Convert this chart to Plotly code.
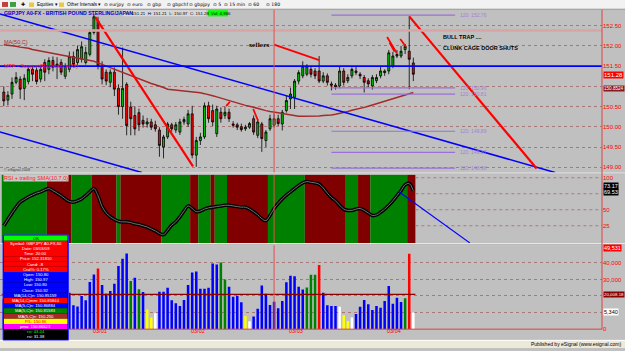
import plotly.graph_objects as go

W, H = 625, 351

# ---------------- data ----------------
opens = [150.86,150.66,150.81,151.10,151.18,150.95,151.12,151.42,151.40,151.18,
         151.59,151.42,151.64,151.55,151.59,151.25,151.42,151.74,151.59,151.67,
         151.59,151.79,152.33,152.62,151.50,151.35,151.10,151.35,150.95,150.50,
         151.05,150.49,150.28,150.35,150.16,150.07,150.12,150.05,149.92,149.50,
         149.75,150.05,149.92,149.87,150.12,150.07,150.32,149.30,149.66,149.75,
         150.52,150.40,149.83,150.36,150.28,150.36,150.07,150.05,150.00,149.95,
         149.99,150.20,149.79,150.07,149.66,149.95,150.04,150.20,150.07,150.40,
         150.69,150.73,151.13,151.26,151.30,151.42,151.38,151.38,151.13,151.26,
         151.06,151.03,151.01,151.38,151.14,151.26,151.38,151.30,151.22,151.14,
         151.01,151.14,151.26,151.38,151.38,151.50,151.75,151.75,151.91,151.87,
         151.58]
highs = [151.00,150.88,151.22,151.35,151.25,151.30,151.47,151.52,151.47,151.50,
         151.67,151.72,151.74,151.72,151.67,151.57,151.86,151.86,152.01,152.11,
         151.98,152.40,152.79,152.72,151.62,151.42,151.42,151.47,151.05,151.96,
         151.10,150.62,150.50,150.45,150.28,150.22,150.20,150.15,149.99,149.80,
         150.12,150.10,150.12,150.20,150.25,150.42,150.52,149.75,149.85,150.60,
         150.62,150.55,150.52,150.48,150.50,150.45,150.14,150.10,150.08,150.05,
         150.12,150.28,150.18,150.12,149.92,150.30,150.33,150.30,150.42,150.77,
         150.97,151.18,151.40,151.62,151.55,151.50,151.45,151.75,151.35,151.32,
         151.12,151.08,151.50,151.45,151.30,151.47,151.50,151.35,151.28,151.20,
         151.28,151.30,151.50,151.42,151.90,151.85,151.90,152.00,152.05,152.73,
         151.71]
lows = [150.51,150.53,150.69,151.05,150.69,150.66,151.05,151.13,151.05,151.10,
        151.13,151.30,151.37,151.18,151.28,151.18,151.35,151.47,151.52,151.59,
        151.54,151.74,152.28,151.42,151.05,151.03,150.98,150.76,150.30,150.20,
        149.79,149.79,149.79,149.90,149.98,149.98,149.92,149.88,149.26,149.22,
        149.70,149.88,149.85,149.80,150.05,150.00,149.22,149.01,149.55,149.70,
        150.10,150.02,149.75,150.10,150.20,150.12,149.98,149.92,149.88,149.90,
        149.95,149.80,149.72,149.38,149.50,149.90,149.98,150.02,149.91,150.35,
        150.44,150.44,151.05,151.20,151.25,151.22,151.18,151.08,151.08,151.02,
        150.90,150.92,150.95,151.02,151.08,151.20,151.28,151.18,150.85,150.98,
        150.92,151.08,151.20,151.26,151.30,151.45,151.70,151.70,151.80,150.93,
        151.13]
closes = [150.64,150.78,151.10,151.22,150.93,151.20,151.42,151.30,151.12,151.42,
          151.35,151.64,151.47,151.50,151.35,151.50,151.74,151.54,151.91,151.98,
          151.84,152.33,152.72,151.50,151.18,151.13,151.35,150.93,150.50,150.95,
          150.03,150.20,149.95,150.05,150.07,150.12,149.99,149.95,149.54,149.75,
          150.07,149.95,150.05,150.12,150.18,150.32,149.30,149.66,149.75,150.52,
          150.20,150.12,150.44,150.20,150.36,150.20,150.04,149.99,149.93,149.99,
          150.08,149.87,150.12,149.71,149.87,150.20,150.20,150.08,150.36,150.65,
          150.81,151.13,151.34,151.50,151.50,151.30,151.26,151.13,151.26,151.10,
          151.03,150.99,151.38,151.10,151.22,151.42,151.34,151.26,151.10,151.06,
          151.22,151.22,151.38,151.34,151.83,151.75,151.79,151.87,151.99,151.67,
          151.30]
ma50 = [152.03,152.02,152.00,151.99,151.97,151.96,151.94,151.91,151.89,151.87,
        151.85,151.83,151.81,151.79,151.77,151.75,151.74,151.72,151.70,151.68,
        151.66,151.64,151.62,151.58,151.54,151.50,151.45,151.41,151.38,151.34,
        151.30,151.26,151.22,151.18,151.14,151.10,151.07,151.04,151.01,150.97,
        150.93,150.92,150.91,150.90,150.89,150.88,150.87,150.85,150.84,150.82,
        150.80,150.77,150.74,150.71,150.68,150.64,150.61,150.58,150.56,150.53,
        150.51,150.48,150.45,150.43,150.40,150.38,150.37,150.35,150.33,150.31,
        150.30,150.28,150.26,150.26,150.26,150.26,150.27,150.27,150.28,150.28,
        150.29,150.31,150.33,150.36,150.38,150.41,150.43,150.46,150.48,150.51,
        150.54,150.57,150.60,150.63,150.66,150.70,150.73,150.76,150.79,150.82,
        150.85]
rsi = [25,35,45,54,62,66,70,73,76,78,
       81,83,80,76,72,67,63,62,64,67,
       72,78,83,72,55,45,39,35,32,31,
       31,30,28,27,25,23,20,17,13,11,
       18,26,31,39,48,56,52,47,48,51,
       53,54,55,56,57,57,56,55,54,54,
       51,47,42,36,33,41,52,60,67,73,
       78,83,88,92,94,93,92,90,84,76,
       69,64,57,51,49,49,51,52,49,45,
       41,42,46,51,57,64,72,80,89,91,
       80]
# 1 = green band, 0 = red band
rsi_state = ("11111111111" "000000" "11111" "000000" "1" "0000000000" "1111111" "00"
             "111" "0" "111" "0000000000" "111111111" "0000000000" "111" "000"
             "111111111" "00")
volume = [18000,15000,21000,17000,24000,19000,26000,22000,16000,20000,
          23000,18000,25000,21000,17000,19000,22000,14400,13600,20000,
          17400,28400,33000,36600,26600,21400,23000,27400,38000,42400,
          45600,29000,31000,24000,22400,11800,7000,9600,22550,22550,
          24950,17370,15570,13970,17560,26550,34130,34730,24350,24350,
          24950,39520,38920,40120,29940,25550,19560,20160,16170,7980,
          4790,7580,12380,26350,21360,14570,16570,12570,16970,28340,
          32140,31940,25550,23950,25150,32730,32730,38720,21960,14370,
          13970,13970,13570,8380,4990,6990,9180,13570,17560,14970,
          11580,13970,12970,16970,25950,15370,18960,16370,18560,45500,
          10000]
vol_codes = ("bbbbbbbbbbbbbbbbbbbbbbb" "r" "bbbbbbb" "g" "b" "g" "b" "yyw"
             "bbbbbbbbbbbbbbb" "gg" "bbbb" "yw" "bbbbbbbbbbbbb" "ggg" "r" "bbbb"
             "wyyw" "bbbbbbbbbbbb" "grw")
day_labels = ["03/01", "03/02", "03/03", "03/04"]
day_pos = [23.5, 47.4, 71.4, 95.3]
price_ticks = [149.0, 149.5, 150.0, 150.5, 151.0, 151.5, 152.0, 152.5]
price_tick_text = ["149.00", "149.50", "150.00", "150.50", "", "151.50", "152.00", "152.50"]
rsi_ticks = [25, 50, 75, 100]
rsi_tick_text = ["25", "50", "", "100"]
vol_ticks = [0, 10000, 20000, 30000, 40000]
vol_tick_text = ["0", "", "", "30,000", "40,000"]
support_level = 151.50
pink_level = 152.38
vol_ma_level = 21000
fib_levels = [152.76, 150.96, 150.81, 149.89, 149.37, 148.98]
fib_span = [80.0, 110.2]
blue_lines = [((-0.93, 152.79), (134.6, 148.87)), ((-0.93, 149.87), (33.7, 148.87))]
red_lines = [((22.3, 152.72), (46.2, 149.02)), ((99.0, 152.73), (130.1, 148.97))]
red_ticks = [((66.0, 152.03), (77.0, 151.65)), ((54.3, 150.51), (55.2, 150.62)),
             ((60.9, 150.44), (62.1, 150.15)), ((93.6, 152.22), (95.9, 151.83)),
             ((94.2, 152.08), (95.4, 151.86)), ((96.8, 152.17), (98.2, 151.98))]
rsi_blue = ((96.3, 78.8), (113.8, -1.8))
cursor_bar = 66

# ---------------- geometry helpers ----------------
PLOT_R = 602
RSI_RANGE = [-1.8, 105.1]

def px(x):
    return x / W

def py(y):
    return 1 - y / H

idx = list(range(len(closes)))
XR = [-0.93, 146.07]
shapes = []
anns = []
FONT = "Liberation Sans, Arial, sans-serif"

def rect(x0, y0, x1, y1, fill, line=None, lw=0, layer="above"):
    shapes.append(dict(type="rect", xref="paper", yref="paper", x0=px(x0), x1=px(x1),
                       y0=py(y1), y1=py(y0), fillcolor=fill, layer=layer,
                       line=dict(color=line or fill, width=lw)))

def hline_px(x0, x1, y, color, w=1, dash="solid"):
    shapes.append(dict(type="line", xref="paper", yref="paper", x0=px(x0), x1=px(x1),
                       y0=py(y), y1=py(y), line=dict(color=color, width=w, dash=dash)))

def vline_px(x, y0, y1, color, w=1):
    shapes.append(dict(type="line", xref="paper", yref="paper", x0=px(x), x1=px(x),
                       y0=py(y0), y1=py(y1), line=dict(color=color, width=w)))

def text(x, y, s, size=6, color="#000000", anchor="left", bg=None, bold=False, family=FONT):
    anns.append(dict(xref="paper", yref="paper", x=px(x), y=py(y), text=("<b>%s</b>" % s) if bold else s,
                     showarrow=False, xanchor=anchor, yanchor="middle",
                     font=dict(size=size, color=color, family=family),
                     bgcolor=bg, borderpad=0))

fig = go.Figure()

# ---------------- price panel ----------------
fig.add_trace(go.Candlestick(
    x=idx, open=opens, high=highs, low=lows, close=closes,
    increasing=dict(line=dict(color="#000000", width=0.8), fillcolor="#00c000"),
    decreasing=dict(line=dict(color="#000000", width=0.8), fillcolor="#ff0000"),
    whiskerwidth=0, xaxis="x", yaxis="y", showlegend=False, hoverinfo="skip"))
fig.add_trace(go.Scatter(x=idx, y=ma50, mode="lines", line=dict(color="#a52a2a", width=1.5),
                         xaxis="x", yaxis="y", showlegend=False, hoverinfo="skip"))
for (a, b) in blue_lines:
    fig.add_trace(go.Scatter(x=[a[0], b[0]], y=[a[1], b[1]], mode="lines",
                             line=dict(color="#0000ff", width=1.5), xaxis="x", yaxis="y",
                             showlegend=False, hoverinfo="skip"))
for (a, b) in red_lines:
    fig.add_trace(go.Scatter(x=[a[0], b[0]], y=[a[1], b[1]], mode="lines",
                             line=dict(color="#ff0000", width=2.2), xaxis="x", yaxis="y",
                             showlegend=False, hoverinfo="skip"))
for (a, b) in red_ticks:
    fig.add_trace(go.Scatter(x=[a[0], b[0]], y=[a[1], b[1]], mode="lines",
                             line=dict(color="#ff0000", width=1.8), xaxis="x", yaxis="y",
                             showlegend=False, hoverinfo="skip"))

shapes.append(dict(type="line", xref="x domain", yref="y", x0=0, x1=1, y0=pink_level, y1=pink_level,
                   line=dict(color="#d8a4a4", width=2.5)))
shapes.append(dict(type="line", xref="x domain", yref="y", x0=0, x1=1, y0=support_level, y1=support_level,
                   line=dict(color="#0000ff", width=1.6)))
for k, lv in enumerate(fib_levels):
    shapes.append(dict(type="line", xref="x", yref="y", x0=fib_span[0], x1=fib_span[1], y0=lv, y1=lv,
                       line=dict(color="#9a70d8", width=1.2)))
    anns.append(dict(xref="x", yref="y", x=fib_span[1] + 0.8, y=lv, text="120: %.2f" % lv,
                     showarrow=False, xanchor="left", yanchor="middle",
                     font=dict(size=5, color="#a080d8", family=FONT)))

# ---------------- RSI panel ----------------
# background bands: one rectangle per run of equal state
start = 0
for k in range(1, len(rsi_state) + 1):
    if k == len(rsi_state) or rsi_state[k] != rsi_state[start]:
        col = "#008000" if rsi_state[start] == "1" else "#800000"
        shapes.append(dict(type="rect", xref="x2", yref="y2", x0=start - 0.5, x1=k - 0.5,
                           y0=RSI_RANGE[0], y1=RSI_RANGE[1], fillcolor=col, line=dict(width=0),
                           layer="below"))
        start = k
# dotted grid only over the empty (gray) part of the RSI panel
for lv in rsi_ticks:
    shapes.append(dict(type="line", xref="x2", yref="y2", x0=len(rsi_state) - 0.5, x1=XR[1],
                       y0=lv, y1=lv, line=dict(color="#a87878", width=1, dash="dot"), layer="below"))
fig.add_trace(go.Scatter(x=idx, y=rsi, mode="lines", line=dict(color="#000000", width=3.6, shape="spline"),
                         xaxis="x2", yaxis="y2", showlegend=False, hoverinfo="skip"))
fig.add_trace(go.Scatter(x=idx, y=rsi, mode="lines", line=dict(color="#707070", width=1.0, shape="spline"),
                         xaxis="x2", yaxis="y2", showlegend=False, hoverinfo="skip"))
fig.add_trace(go.Scatter(x=[rsi_blue[0][0], rsi_blue[1][0]], y=[rsi_blue[0][1], rsi_blue[1][1]], mode="lines",
                         line=dict(color="#0000ff", width=1.2), xaxis="x2", yaxis="y2",
                         showlegend=False, hoverinfo="skip"))

# ---------------- volume panel ----------------
cmap = {"b": "#0000ff", "g": "#008000", "r": "#ff0000", "y": "#ffff00", "w": "#ffffff"}
fig.add_trace(go.Bar(x=idx, y=volume, width=0.62,
                     marker=dict(color=[cmap[c] for c in vol_codes], line=dict(width=0)),
                     xaxis="x3", yaxis="y3", showlegend=False, hoverinfo="skip"))
shapes.append(dict(type="line", xref="x3", yref="y3", x0=-0.5, x1=idx[-1] + 0.5,
                   y0=vol_ma_level, y1=vol_ma_level, line=dict(color="#8b0000", width=1.2)))

# cursor line
shapes.append(dict(type="line", xref="x", yref="paper", x0=cursor_bar, x1=cursor_bar,
                   y0=py(332), y1=py(10), line=dict(color="#e05050", width=1)))

# ---------------- chrome ----------------
rect(0, 0, W, 9, "#f2f2f2")
hline_px(0, W, 9.3, "#9a9a9a", 1)
rect(0, 174, W, 176, "#e8e8e8")
hline_px(0, W, 175.5, "#8a8a8a", 0.6)
rect(0, 245, W, 247.3, "#e8e8e8")
hline_px(0, W, 246.8, "#8a8a8a", 0.6)
vline_px(PLOT_R, 10, 332, "#e04040", 1)
hline_px(0, PLOT_R, 332, "#e04040", 1)
rect(0, 343, W, H, "#ece9d8")
hline_px(0, W, 343.3, "#ffffff", 1)
text(622, 347.2, "Published by eSignal (www.esignal.com)", 5, "#000000", "right")

# toolbar
rect(2, 2, 8, 7, "#c04040")
rect(10, 2, 16, 7, "#40a040")
text(20, 4.5, "✚", 5, "#000000")
rect(29, 2.5, 34, 7, "#e8c84a")
text(36, 4.6, "Equities ▾", 4.6)
rect(59, 2.5, 64, 7, "#e8c84a")
text(66, 4.6, "Other Intervals ▾", 4.6)
tb_items = ["eurjpy", "euro", "gbp", "gbpchf", "gbpjpy", "5", "15 min", "60", "180"]
tb_x = [103, 126, 146, 166, 188, 212, 223, 247, 265]
for lab, xx in zip(tb_items, tb_x):
    text(xx, 4.6, "⊙ " + lab, 4.6, "#000000", family="DejaVu Sans, sans-serif")

# price panel texts
text(3, 13.3, "GBPJPY A0-FX - BRITISH POUND STERLING/JAPAN", 5.2, "#0000d0", bold=True)
rect(123, 10.3, 206, 16.5, "#d8d8d8")
text(125, 13.4, "O: 151.21  H: 151.21  L: 150.97  C: 151.28", 4.4)
rect(208, 10.3, 228, 16.5, "#00ff00")
text(209.5, 13.4, "Vol: 4,966", 4.4)
text(3, 42, "MA(50,C)", 5.5, "#a03030")
text(3, 66.5, "MTF - Support/Resistance(72)", 5.5, "#ff2020")
text(248, 45.5, "sellers", 5.5, "#000000", bold=True, family="DejaVu Serif, serif")
text(442, 37, "BULL TRAP ....", 5.5, "#000000", bold=True)
text(442, 48.5, "CLUNK CAGE DOOR SHUTS", 5.5, "#000000", bold=True)
text(3, 171, "© eSignal 2008", 3.8, "#404040")
text(603, 76, "151.28", 6, "#ffffff", bg="#ff0000")
text(603, 89.5, "150.8524", 4.6, "#ffffff", bg="#8b1a1a")

# rsi texts
text(3, 179.5, "RSI + trailing SMA(10,7,0)", 5.5, "#ff2020", bg="#c8c8c8")
text(603, 187.5, "73.17", 5.5, "#ffffff", bg="#000000")
text(603, 193.5, "69.53", 5.5, "#ffffff", bg="#000000")

# volume texts
text(603, 250, "49,531", 5.5, "#ffffff", bg="#ff0000")
text(603, 297, "20,008.18", 4.4, "#ffffff", bg="#8b0000")
text(603, 315, "5,340", 5.5, "#000000", bg="#ffffff")
for lab, pos in zip(day_labels, day_pos):
    anns.append(dict(xref="x3", yref="paper", x=pos, y=py(333.5), text=lab, showarrow=False,
                     xanchor="center", yanchor="middle", font=dict(size=5.5, color="#ff0000", family=FONT)))

# data window
dw_rows = [("OK", "#00ff00", "#000000"),
           ("Symbol: GBPJPY A0-FX,60", "#ff0000", "#ffffff"),
           ("Date: 03/03/09", "#ff0000", "#ffffff"),
           ("Time: 20:00", "#ff0000", "#ffffff"),
           ("Price: 152.31810", "#ff0000", "#ffffff"),
           ("Cand: -8", "#ff0000", "#ffffff"),
           ("Cnd%: 0.17%", "#ff0000", "#ffffff"),
           ("Open: 150.80", "#0000ff", "#ffffff"),
           ("High: 150.97", "#0000ff", "#ffffff"),
           ("Low: 150.80", "#0000ff", "#ffffff"),
           ("Close: 150.92", "#0000ff", "#ffffff"),
           ("MA(14,C)n: 150.85159", "#0000ff", "#ffffff"),
           ("MA(14,C)mm: 150.85844", "#ff0000", "#ffffff"),
           ("MA(5,C)n: 150.86884", "#0000ff", "#ffffff"),
           ("MA(5,C)n: 150.81583", "#008000", "#ffffff"),
           ("MA(5,C)n: 150.250", "#a52a2a", "#ffffff"),
           ("P/L: 150.86", "#ffff00", "#ff0000"),
           ("pma: 150.86523", "#ff00ff", "#ffffff"),
           ("rsi: 43.24", "#000000", "#00ff00"),
           ("rsi: 31.38", "#000000", "#ffffff")]
row_h = 5.25
y0 = 237.5
rect(3, y0 - 0.5, 68.5, y0 + row_h * len(dw_rows) + 0.5, "#000000", "#3030ff", 1)
for k, (s, bg, fg) in enumerate(dw_rows):
    ya = y0 + k * row_h
    rect(4, ya, 67.5, ya + row_h, bg)
    text(35.7, ya + row_h / 2, s, 4.2, fg, "center")

# ---------------- layout ----------------
common_x = dict(range=XR, showticklabels=False, showgrid=False, zeroline=False, showline=False,
                domain=[0, px(PLOT_R)], fixedrange=True, ticks="")
grid = dict(showgrid=True, gridcolor="#a87878", griddash="dot", gridwidth=1, zeroline=False,
            showline=False, side="right", ticks="", fixedrange=True)
fig.update_layout(
    width=W, height=H, margin=dict(l=0, r=0, t=0, b=0),
    paper_bgcolor="#c0c0c0", plot_bgcolor="#c0c0c0", showlegend=False, hovermode=False,
    barmode="overlay",
    xaxis=dict(common_x, anchor="y", rangeslider=dict(visible=False)),
    xaxis2=dict(common_x, anchor="y2"),
    xaxis3=dict(common_x, anchor="y3"),
    yaxis=dict(grid, domain=[py(174), py(10)], range=[148.87, 152.89], tickvals=price_ticks,
               ticktext=price_tick_text, tickfont=dict(color="#ff0000", size=6, family=FONT),
               anchor="x"),
    yaxis2=dict(grid, domain=[py(245), py(176)], range=RSI_RANGE, tickvals=rsi_ticks, showgrid=False,
                ticktext=rsi_tick_text, tickfont=dict(color="#ff0000", size=6, family=FONT), anchor="x2"),
    yaxis3=dict(grid, domain=[py(332), py(247)], range=[0, 50800], tickvals=vol_ticks,
                ticktext=vol_tick_text, tickfont=dict(color="#ff0000", size=6, family=FONT), anchor="x3"),
    shapes=shapes, annotations=anns,
)
fig.write_html("out.html")
